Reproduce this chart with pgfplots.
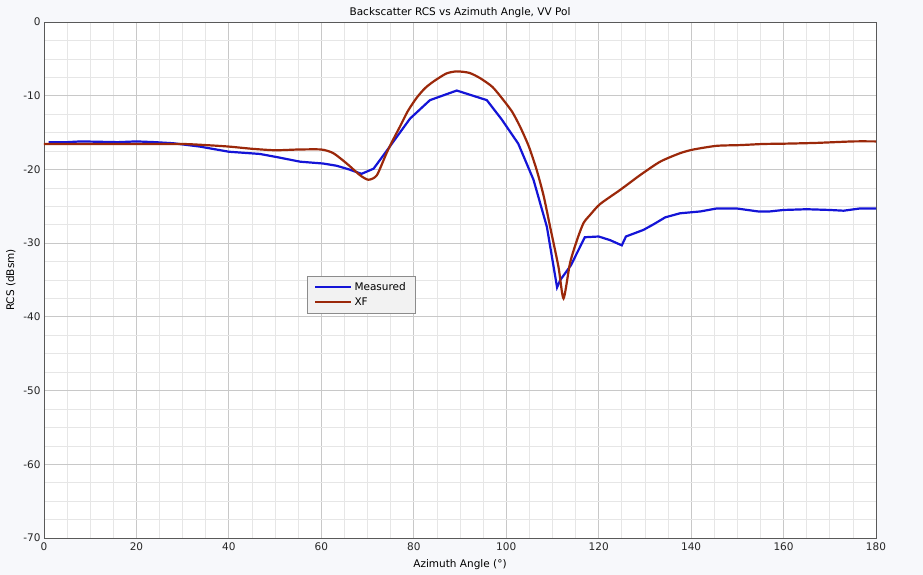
\documentclass[border=0pt]{standalone}
\usepackage{pgfplots}
\pgfplotsset{compat=1.18}
\usepackage{fontspec}
\setmainfont{DejaVu Sans}
\definecolor{bgout}{RGB}{247,248,251}
\definecolor{meas}{RGB}{20,20,215}
\definecolor{xfcol}{RGB}{155,40,10}
\definecolor{majgrid}{RGB}{200,200,200}
\definecolor{mingrid}{RGB}{230,230,230}
\begin{document}
\begin{tikzpicture}[x=1pt,y=1pt]
\fill[bgout] (0,0) rectangle (923,575);
\begin{axis}[
    at={(44pt,37pt)}, anchor=south west,
    width=832pt, height=516pt, scale only axis,
    xmin=0, xmax=180, ymin=-70, ymax=0,
    xtick={0,20,...,180}, ytick={-70,-60,...,0},
    minor x tick num=3, minor y tick num=3,
    grid=both,
    major grid style={majgrid, line width=0.8pt},
    minor grid style={mingrid, line width=0.6pt},
    axis line style={black!65, line width=0.9pt},
    axis background/.style={fill=white},
    major tick length=0pt, minor tick length=0pt,
    /pgf/number format/assume math mode=true,
    ticklabel style={font=\fontsize{10.5}{12}\selectfont, black!85},
    xticklabel style={yshift=-1.5pt},
    title={Backscatter RCS vs Azimuth Angle, VV Pol},
    title style={font=\fontsize{10.5}{12}\selectfont, yshift=-5pt},
    xlabel={Azimuth Angle (°)},
    ylabel={RCS (dBsm)},
    label style={font=\fontsize{10.5}{12}\selectfont},
    xlabel style={yshift=-2pt},
    ylabel style={yshift=1pt},
    legend cell align=left,
    legend style={at={(0.316,0.508)}, anchor=north west,
        fill=black!5, draw=black!45, font=\fontsize{10.5}{12}\selectfont,
        inner xsep=7pt, inner ysep=4pt, row sep=2pt},
    legend image code/.code={\draw[#1, line width=2.4pt] (0pt,0pt) -- (36pt,0pt);},
]
\addplot[meas, line width=2.2pt] coordinates {
(1,-16.3) (5,-16.3) (8,-16.2) (12,-16.25) (16,-16.3) (20,-16.2) (24,-16.3)
(28,-16.45) (33.7,-16.9) (40,-17.6) (46.7,-17.9) (51,-18.4) (55.4,-18.95)
(60.4,-19.2) (63.3,-19.5) (66,-20.0) (68.7,-20.6) (71.3,-19.9) (74,-17.6)
(77,-15.0) (79.2,-13.1) (83.5,-10.6) (89.3,-9.3) (95.8,-10.6) (99,-13.2)
(102.6,-16.5) (105.9,-21.4) (108.8,-27.8) (111,-36.0) (111.7,-35.0)
(114,-33.0) (117,-29.2) (120,-29.1) (122.5,-29.6) (125,-30.3) (125.9,-29.1)
(129.7,-28.2) (132,-27.4) (134.4,-26.5) (137.6,-25.95) (142,-25.7)
(145.5,-25.3) (149.9,-25.3) (154.5,-25.7) (157,-25.7) (160,-25.5)
(165,-25.4) (170,-25.5) (173,-25.6) (176.5,-25.3) (180,-25.3)
};
\addlegendentry{Measured}
\addplot[xfcol, line width=2.2pt, smooth, tension=0.4] coordinates {
(0,-16.55) (10,-16.55) (20,-16.55) (30,-16.55) (35,-16.7) (40,-16.9)
(45,-17.2) (50,-17.4) (55,-17.3) (60,-17.3) (62.6,-17.8) (65.5,-19.2)
(68.4,-20.8) (70.2,-21.4) (72,-20.8) (74.1,-17.8) (75.5,-16.0) (77,-14.2)
(78.7,-12.1) (80.6,-10.3) (82.4,-9.0) (84.2,-8.1) (87,-7.0) (89.3,-6.7)
(92,-6.9) (94.3,-7.6) (97,-8.8) (99.4,-10.6) (101.3,-12.2) (103,-14.2)
(104.9,-16.9) (106.6,-20.1) (108.1,-23.6) (109.5,-27.8) (111.3,-33.2)
(112.4,-37.5) (113.8,-32.7) (115.3,-29.6) (116.7,-27.3) (118.1,-26.2)
(120.3,-24.7) (124.6,-22.8) (128.9,-20.8) (133.3,-18.95) (137.6,-17.8)
(140.5,-17.3) (145.5,-16.8) (150.6,-16.7) (155.6,-16.55) (160.7,-16.5)
(167.2,-16.4) (175.1,-16.2) (180,-16.2)
};
\addlegendentry{XF}
\end{axis}
\end{tikzpicture}
\end{document}
